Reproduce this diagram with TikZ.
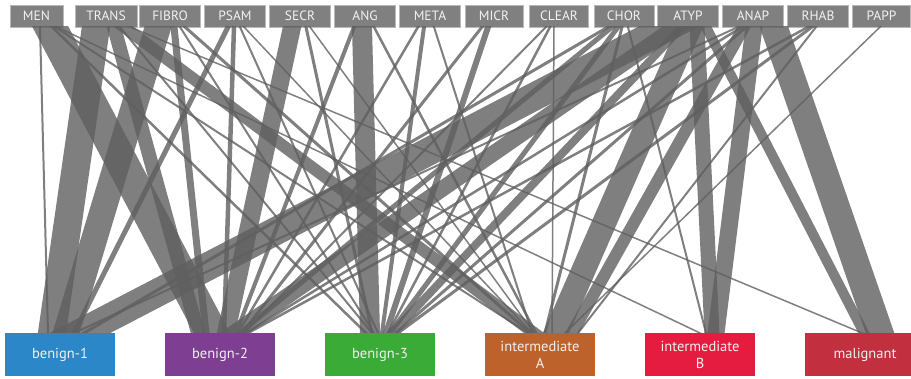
\documentclass[tikz,border=0pt]{standalone}
\usepackage{fontspec}
\setmainfont{PT Sans}
\usepackage{tikz}
\usetikzlibrary{calc}

\definecolor{boxgray}{RGB}{128,128,128}
\definecolor{flowgray}{RGB}{95,95,95}
\definecolor{benonecol}{RGB}{43,135,200}
\definecolor{bentwocol}{RGB}{126,63,146}
\definecolor{benthreecol}{RGB}{58,171,55}
\definecolor{intacol}{RGB}{190,98,44}
\definecolor{intbcol}{RGB}{229,28,64}
\definecolor{malcol}{RGB}{194,47,62}

\begin{document}
\begin{tikzpicture}[x=1pt, y=-1pt,
    topbox/.style={fill=boxgray, draw=boxgray!55, line width=0.6pt, text=white!95!black,
        minimum height=22pt, inner sep=0pt, outer sep=0pt, font=\fontsize{13.5}{13.5}\selectfont},
    classbox/.style={minimum height=43pt, inner sep=0pt, outer sep=0pt, text=white!94!black,
        align=center, font=\fontsize{14.5}{17}\selectfont},
    flow/.style={draw=flowgray, draw opacity=0.8, shorten <=-40pt, shorten >=-40pt}]

\useasboundingbox (0,0) rectangle (911,379);

% Histological subtypes (top row)
\foreach \tname/\tlab/\tx/\tw in {men/MEN/36.5/53, trans/TRANS/106/62, fibro/FIBRO/170/61,
    psam/PSAM/235/61, secr/SECR/300/61, ang/ANG/365/61, meta/META/430/61, micr/MICR/494/58,
    clear/CLEAR/559/59, chor/CHOR/624/60, atyp/ATYP/688/61, anap/ANAP/753/61,
    rhab/RHAB/818/61, papp/PAPP/881.5/58} {
    \node[topbox, minimum width=\tw pt] (\tname) at (\tx,16) {\tlab};
}

% Methylation classes (bottom row)
\foreach \bname/\blab/\bx/\bw/\bcol in {ben1/benign-1/60/110/benonecol, ben2/benign-2/220/110/bentwocol,
    ben3/benign-3/380/110/benthreecol, intA/{intermediate\\A}/540/110/intacol,
    intB/{intermediate\\B}/700/110/intbcol, mal/malignant/865/120/malcol} {
    \node[classbox, fill=\bcol, minimum width=\bw pt] (\bname) at (\bx,354.5) {\blab};
}

% Flows: source / offset / class / offset / width
\begin{scope}
\clip (0,27) rectangle (911,333);
\foreach \src/\sd/\dst/\dd/\lw in {
    men/3.5/ben1/-12/2, men/14/ben2/-8/32, men/15.5/ben3/-14/2.5, men/18.5/intA/-12/2, men/20.5/intB/0/1.5,
    trans/-10/ben1/-8/28, trans/8/ben2/-22/14, trans/14/ben3/-8/2, trans/18/intA/-6/12, trans/24/mal/-3/1.5,
    fibro/-12/ben1/6/26, fibro/4/ben2/-14/7, fibro/10/ben3/-6/2, fibro/15/intA/-10/3,
    psam/-7/ben1/14/5, psam/-1/ben2/4/4.5, psam/5/ben3/-2/2, psam/9/intA/-8/1.5,
    secr/-8/ben2/6/18, secr/6/ben3/-8/3, secr/10/intA/-6/1.5,
    ang/-11/ben2/16/4, ang/-3/ben3/-10/20, ang/9/intA/-4/2.5,
    meta/-12/ben2/18/2.5, meta/-6/ben3/2/4, meta/4/intA/-8/2,
    micr/-12/ben2/22/3, micr/-6/ben3/6/6,
    clear/-13/ben2/24/2, clear/-9/ben3/8/2.5, clear/-5/intA/12/1.5,
    chor/-16/ben1/24/3, chor/-12/ben2/20/5, chor/-6/ben3/10/5, chor/-2/intA/5/3, chor/4/intB/6/2,
    atyp/-20/ben1/20/28, atyp/-12/ben2/14/16, atyp/-6/ben3/12/8, atyp/2/intA/16/24,
    atyp/9/intB/12/15, atyp/18/mal/-1/10,
    anap/-15/ben1/14/2, anap/-11/ben2/26/2.5, anap/-7/ben3/16/3, anap/-9/intA/32/12,
    anap/1/intB/16/17, anap/21/mal/15/27,
    rhab/-10/ben2/28/2.5, rhab/-6/ben3/18/3, rhab/-2/intA/38/2,
    papp/-1.5/intA/25/1.5} {
    \draw[flow, line width=\lw pt] ($(\src.south)+(\sd,0)$) -- ($(\dst.north)+(\dd,0)$);
}
\end{scope}

\end{tikzpicture}
\end{document}
